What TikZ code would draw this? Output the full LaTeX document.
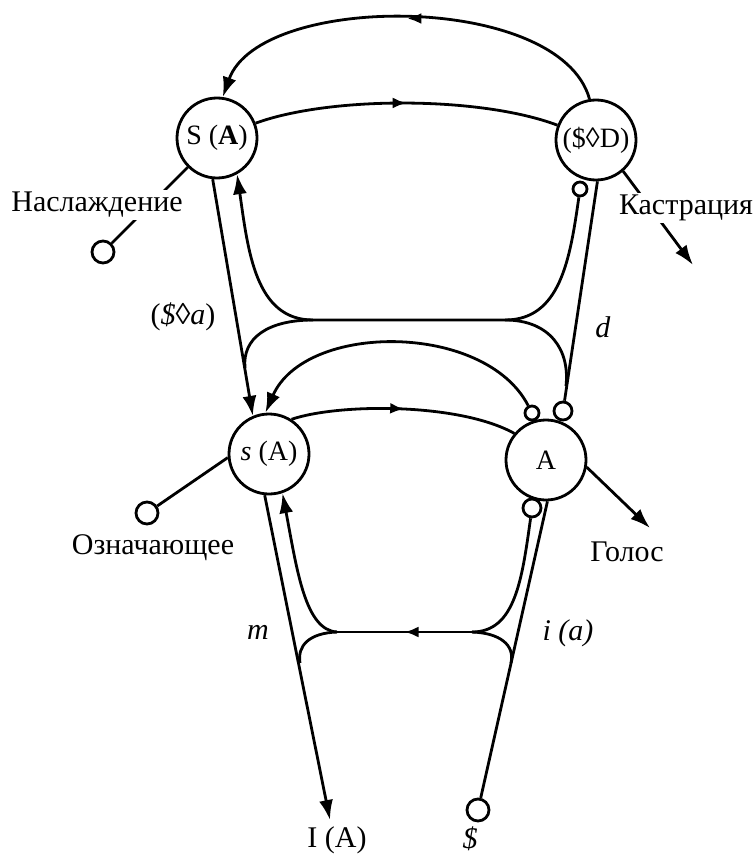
\documentclass[tikz,border=0pt]{standalone}
\usepackage{fontspec}
\setmainfont{Liberation Serif}
\usepackage{tikz}
\usetikzlibrary{positioning,arrows.meta,decorations.markings}

\begin{document}
\begin{tikzpicture}[x=0.5pt, y=-0.5pt, line width=1.4pt,
  bignode/.style={draw, circle, minimum size=40pt, inner sep=0pt, font=\fontsize{14}{16}\selectfont},
  hole/.style={draw, circle, fill=white, inner sep=0pt, minimum size=#1},
  hole/.default=8pt,
  lbl/.style={font=\fontsize{15}{17}\selectfont},
  tip/.style={-{Latex[length=10pt,width=7pt]}},
  midarr/.style={postaction={decorate}, decoration={markings, mark=at position 0.5 with {\arrow{Latex[length=7pt,width=5.5pt]}}}}]
  \useasboundingbox (0,0) rectangle (754,856);

  \node[bignode] (SA) at (217,138) {S (\textbf{A})};
  \node[bignode] (SD) at (596,140) {(\$◊D)};
  \node[bignode] (sA) at (269,454) {\textit{s} (A)};
  \node[bignode] (A) at (546,460) {A};

  \node[hole=7pt] (c1) at (580,189) {};
  \node[hole=7pt] (c2) at (532,413) {};
  \node[hole=9pt] (c3) at (563,411) {};
  \node[hole=9pt] (c4) at (532,508) {};
  \node[hole=11pt] (jouis) at (103,252) {};
  \node[hole=11pt] (sig) at (147,513) {};
  \node[hole=11pt] (sbar) at (478,810) {};

  \coordinate (castr) at (693,265);
  \coordinate (voxt) at (650,528);
  \coordinate (mt) at (330,820);
  \coordinate (ur) at (505,320);
  \coordinate (ul) at (313,320);
  \coordinate (lr) at (472,632);
  \coordinate (ll) at (337,632);

  \draw[midarr, tip] (SD.99) .. controls (560,-8) and (260,-8) .. (SA.82);
  \draw[midarr] (SA.21) .. controls (330,96) and (480,96) .. (SD.159);
  \draw[tip] (SA.264) -- (sA.113);
  \draw[tip] (c1) .. controls (570,260) and (560,320) .. (ur) -- (ul) .. controls (255,320) and (248,250) .. (SA.299);
  \draw (ul) .. controls (268,320) and (242,338) .. (245,368);
  \draw (ur) .. controls (550,320) and (570,350) .. (566,386);
  \draw (SD.272) -- (c3);
  \draw[tip] (c2) .. controls (485,322) and (305,322) .. (sA.95);
  \draw[midarr] (sA.57) .. controls (340,403) and (460,403) .. (A.140);

  \draw (SA.225) -- (jouis);
  \node[lbl, fill=white, inner sep=1pt] (jouisl) at (97,205) {Наслаждение};
  \draw[tip] (SD.311) -- (castr);
  \node[lbl, fill=white, inner sep=1pt] (castrl) at (686,208) {Кастрация};
  \draw (sA.185) -- (sig);
  \node[lbl] (sigl) at (153,548) {Означающее};
  \draw[tip] (A.350) -- (voxt);
  \node[lbl] (voxl) at (627,552) {Голос};

  \draw[tip] (sA.264) -- (mt);
  \draw (A.272) -- (sbar);
  \draw (c4) .. controls (522,580) and (515,632) .. (lr);
  \draw[midarr] (lr) -- (ll);
  \draw[tip] (ll) .. controls (305,630) and (297,570) .. (sA.289);
  \draw (ll) .. controls (310,633) and (297,645) .. (300,663);
  \draw (lr) .. controls (500,633) and (515,645) .. (511,663);

  \node[lbl] (IA) at (337,840) {I (A)};
  \node[lbl] (Sl) at (470,839) {\textit{\$}};
  \node[lbl] (ml) at (258,632) {\textit{m}};
  \node[lbl] (ial) at (568,633) {\textit{i (a)}};
  \node[lbl] (dl) at (603,327) {\textit{d}};
  \node[lbl] (Sal) at (183,317) {(\textit{\$}◊\textit{a})};
\end{tikzpicture}
\end{document}
